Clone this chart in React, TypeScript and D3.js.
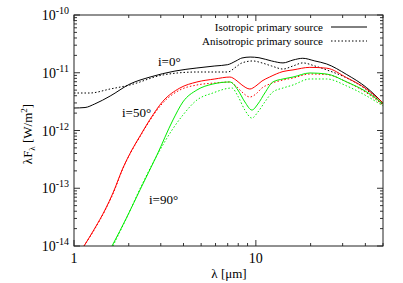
import React, { useEffect, useRef } from "react";
import * as d3 from "d3";

// i=0 deg, isotropic primary source (black solid)
const iso0Lambda = [1.0, 1.15, 1.3, 1.58, 2.03, 2.62, 3.59, 4.74, 5.95, 7.0, 7.77, 8.38, 9.3, 10.4, 12.2, 14.1, 16.0, 18.1, 21.1, 24.5, 31.6, 40.7, 50];
const iso0Flux = [2.45e-12, 2.5e-12, 2.88e-12, 3.95e-12, 6.38e-12, 8.43e-12, 1.07e-11, 1.21e-11, 1.31e-11, 1.38e-11, 1.6e-11, 1.8e-11, 1.87e-11, 1.82e-11, 1.6e-11, 1.48e-11, 1.66e-11, 1.78e-11, 1.6e-11, 1.42e-11, 9.3e-12, 5.5e-12, 2.99e-12];

// i=0 deg, anisotropic primary source (black dotted)
const aniso0Lambda = [1.0, 1.22, 1.58, 2.03, 3.08, 4.74, 7.0, 7.77, 8.38, 9.63, 10.8, 12.2, 14.1, 16.0, 18.1, 21.1, 24.5, 31.6, 40.7, 50];
const aniso0Flux = [4.46e-12, 4.46e-12, 5.23e-12, 6.14e-12, 9.15e-12, 1.03e-11, 1.03e-11, 1.26e-11, 1.48e-11, 1.6e-11, 1.48e-11, 1.31e-11, 1.16e-11, 1.31e-11, 1.48e-11, 1.31e-11, 1.12e-11, 8.11e-12, 5.03e-12, 2.77e-12];

// i=50 deg (red)
const iso50Lambda = [1.135, 1.304, 1.48, 1.638, 1.858, 2.08, 2.305, 2.615, 3.08, 3.82, 4.74, 5.95, 7.2, 7.77, 8.38, 9.27, 10.0, 10.8, 11.9, 14.1, 16.0, 19.8, 24.5, 31.6, 40.7, 50];
const iso50Flux = [1.0e-14, 2.05e-14, 4.2e-14, 8.28e-14, 2.24e-13, 4.59e-13, 8.0e-13, 1.55e-12, 3.2e-12, 5.44e-12, 6.92e-12, 7.8e-12, 8.43e-12, 7.48e-12, 6.14e-12, 5.23e-12, 5.9e-12, 7.19e-12, 8.43e-12, 1.05e-11, 1.12e-11, 1.24e-11, 1.2e-11, 8.2e-12, 5.2e-12, 2.99e-12];
const aniso50Lambda = [1.135, 1.304, 1.48, 1.638, 1.858, 2.08, 2.305, 2.615, 3.08, 3.82, 4.74, 5.95, 7.2, 7.77, 8.38, 9.27, 10.0, 10.8, 11.9, 14.1, 16.0, 19.8, 24.5, 31.6, 40.7, 50];
const aniso50Flux = [1.0e-14, 2.0e-14, 4.1e-14, 8.0e-14, 2.2e-13, 4.5e-13, 7.8e-13, 1.5e-12, 3.0e-12, 5.03e-12, 6.14e-12, 6.65e-12, 6.92e-12, 5.9e-12, 4.65e-12, 3.8e-12, 4.28e-12, 5.44e-12, 6.38e-12, 7.48e-12, 8.11e-12, 9.5e-12, 9.3e-12, 6.92e-12, 4.46e-12, 2.77e-12];

// i=90 deg (green)
const iso90Lambda = [1.618, 1.955, 2.305, 2.86, 3.5, 3.97, 4.74, 5.8, 7.2, 7.96, 8.7, 9.51, 10.26, 11.2, 12.4, 14.1, 16.0, 19.8, 24.5, 31.6, 40.7, 50];
const iso90Flux = [1.0e-14, 3.18e-14, 9.33e-14, 3.77e-13, 1.52e-12, 3.12e-12, 5.03e-12, 6.38e-12, 6.92e-12, 5.03e-12, 3.12e-12, 2.26e-12, 2.88e-12, 4.46e-12, 6.92e-12, 7.8e-12, 8.43e-12, 9.91e-12, 9.5e-12, 6.92e-12, 4.65e-12, 2.88e-12];
const aniso90Lambda = [1.638, 1.98, 2.36, 2.97, 3.46, 3.97, 4.74, 5.8, 7.38, 7.96, 8.7, 9.51, 10.26, 11.2, 12.4, 14.1, 16.0, 19.8, 24.5, 31.6, 40.7, 50];
const aniso90Flux = [1.0e-14, 3.44e-14, 1.14e-13, 4.59e-13, 1.02e-12, 1.85e-12, 3.37e-12, 4.46e-12, 5.44e-12, 3.95e-12, 2.26e-12, 1.64e-12, 2.09e-12, 3.12e-12, 4.65e-12, 5.44e-12, 6.14e-12, 7.8e-12, 7.8e-12, 5.9e-12, 3.95e-12, 2.66e-12];

const xTicks = [1, 10];
const yTicks = [1e-14, 1e-13, 1e-12, 1e-11, 1e-10];
const legendLabels = ["Isotropic primary source", "Anisotropic primary source"];

const series = [
  { x: iso0Lambda, y: iso0Flux, color: "#000000", dotted: false },
  { x: aniso0Lambda, y: aniso0Flux, color: "#000000", dotted: true },
  { x: iso50Lambda, y: iso50Flux, color: "#ff0000", dotted: false },
  { x: aniso50Lambda, y: aniso50Flux, color: "#ff0000", dotted: true },
  { x: iso90Lambda, y: iso90Flux, color: "#00ee00", dotted: false },
  { x: aniso90Lambda, y: aniso90Flux, color: "#00ee00", dotted: true },
];

const FONT = "Liberation Serif, serif";

export default function App() {
  const ref = useRef<SVGSVGElement>(null);

  useEffect(() => {
    const svg = d3.select(ref.current);
    svg.selectAll("*").remove();

    const margin = { top: 15, right: 20, bottom: 37, left: 74 };
    const width = 403 - margin.left - margin.right;
    const height = 283 - margin.top - margin.bottom;

    const xScale = d3.scaleLog().domain([1, 50]).range([0, width]);
    const yScale = d3.scaleLog().domain([1e-14, 1e-10]).range([height, 0]);

    const g = svg.append("g").attr("transform", `translate(${margin.left},${margin.top})`);

    svg.append("defs").append("clipPath").attr("id", "plotclip")
      .append("rect").attr("width", width).attr("height", height);

    // minor + major ticks, drawn inward on all four sides
    const xMinor: number[] = [];
    for (let d = 1; d <= 10; d *= 10) for (let k = 2; k <= 9; k++) if (k * d <= 50) xMinor.push(k * d);
    const yMinor: number[] = [];
    for (let e = -14; e < -10; e++) for (let k = 2; k <= 9; k++) yMinor.push(k * Math.pow(10, e));

    const tickColor = "#333";
    xMinor.forEach((v) => {
      g.append("line").attr("x1", xScale(v)).attr("x2", xScale(v)).attr("y1", height).attr("y2", height - 3).attr("stroke", tickColor);
      g.append("line").attr("x1", xScale(v)).attr("x2", xScale(v)).attr("y1", 0).attr("y2", 3).attr("stroke", tickColor);
    });
    xTicks.forEach((v) => {
      g.append("line").attr("x1", xScale(v)).attr("x2", xScale(v)).attr("y1", height).attr("y2", height - 6).attr("stroke", tickColor);
      g.append("line").attr("x1", xScale(v)).attr("x2", xScale(v)).attr("y1", 0).attr("y2", 6).attr("stroke", tickColor);
    });
    yMinor.forEach((v) => {
      g.append("line").attr("x1", 0).attr("x2", 3).attr("y1", yScale(v)).attr("y2", yScale(v)).attr("stroke", tickColor);
      g.append("line").attr("x1", width).attr("x2", width - 3).attr("y1", yScale(v)).attr("y2", yScale(v)).attr("stroke", tickColor);
    });
    yTicks.forEach((v) => {
      g.append("line").attr("x1", 0).attr("x2", 6).attr("y1", yScale(v)).attr("y2", yScale(v)).attr("stroke", tickColor);
      g.append("line").attr("x1", width).attr("x2", width - 6).attr("y1", yScale(v)).attr("y2", yScale(v)).attr("stroke", tickColor);
    });

    // curves
    const line = d3.line<[number, number]>()
      .x((d) => xScale(d[0]))
      .y((d) => yScale(d[1]))
      .curve(d3.curveMonotoneX);

    const curves = g.append("g").attr("clip-path", "url(#plotclip)");
    series.forEach((s) => {
      const pts = s.x.map((v, i) => [v, s.y[i]] as [number, number]);
      curves.append("path")
        .datum(pts)
        .attr("d", line)
        .attr("fill", "none")
        .attr("stroke", s.color)
        .attr("stroke-width", 1)
        .attr("stroke-dasharray", s.dotted ? "1.5,2" : null);
    });

    // frame
    g.append("rect").attr("width", width).attr("height", height)
      .attr("fill", "none").attr("stroke", "#222").attr("stroke-width", 1);

    // x tick labels
    xTicks.forEach((v) => {
      g.append("text").attr("x", xScale(v)).attr("y", height + 17)
        .attr("text-anchor", "middle").attr("font-family", FONT).attr("font-size", 14)
        .text(String(v));
    });

    // y tick labels: 10^n
    yTicks.forEach((v) => {
      const t = g.append("text").attr("x", -5).attr("y", yScale(v) + 5)
        .attr("text-anchor", "end").attr("font-family", FONT).attr("font-size", 14);
      t.append("tspan").text("10");
      t.append("tspan").attr("dy", -6).attr("font-size", 10).text(String(Math.round(Math.log10(v))));
    });

    // axis titles
    g.append("text").attr("x", 155).attr("y", height + 32)
      .attr("text-anchor", "middle").attr("font-family", FONT).attr("font-size", 13)
      .text("λ [μm]");

    const yl = svg.append("text")
      .attr("transform", "translate(32,134) rotate(-90)")
      .attr("text-anchor", "middle").attr("font-family", FONT).attr("font-size", 13);
    yl.append("tspan").text("λF");
    yl.append("tspan").attr("dy", 3).attr("font-size", 9).text("λ");
    yl.append("tspan").attr("dy", -3).text(" [W/m");
    yl.append("tspan").attr("dy", -5).attr("font-size", 9).text("2");
    yl.append("tspan").attr("dy", 5).text("]");

    // curve labels
    const labels = [
      { text: "i=0°", x: 158, y: 66 },
      { text: "i=50°", x: 122, y: 117 },
      { text: "i=90°", x: 149, y: 204 },
    ];
    labels.forEach((l) => {
      svg.append("text").attr("x", l.x).attr("y", l.y)
        .attr("font-family", FONT).attr("font-size", 13).text(l.text);
    });

    // legend
    legendLabels.forEach((lab, i) => {
      const y = 27 + i * 14;
      svg.append("text").attr("x", 323).attr("y", y + 4)
        .attr("text-anchor", "end").attr("font-family", FONT).attr("font-size", 11).text(lab);
      svg.append("line").attr("x1", 331).attr("x2", 367).attr("y1", y).attr("y2", y)
        .attr("stroke", "#000").attr("stroke-width", 1)
        .attr("stroke-dasharray", i === 1 ? "1.5,2" : null);
    });
  }, []);

  return (
    <svg ref={ref} width={403} height={283}
      style={{ position: "absolute", left: 0, top: 0, background: "#fff" }} />
  );
}
